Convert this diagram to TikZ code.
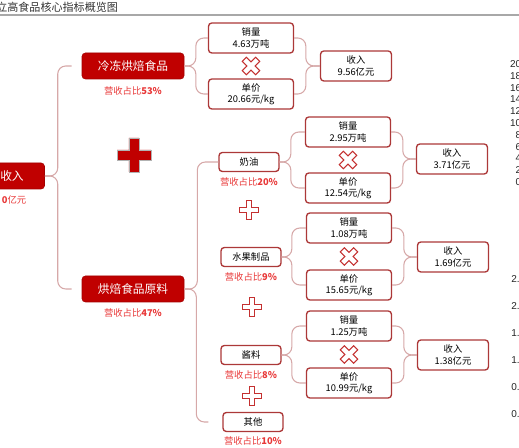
\documentclass[tikz,border=0pt]{standalone}
\usepackage{fontspec}
\setmainfont{Noto Sans CJK SC}
\newfontfamily\axisfont{Liberation Sans}
\usetikzlibrary{positioning, calc}

\definecolor{brandred}{RGB}{192,0,0}
\definecolor{boxred}{RGB}{172,56,56}
\definecolor{linkpink}{RGB}{214,168,168}
\definecolor{sharered}{RGB}{232,56,56}
\definecolor{markred}{RGB}{196,48,48}
\definecolor{rulegray}{RGB}{168,168,168}

\begin{document}
\begin{tikzpicture}[
    x=0.75pt, y=-0.75pt,
    mainbox/.style = {rectangle, fill=brandred, draw=brandred!85!black,
                    rounded corners=2.5pt, minimum width=76.5pt,
                    minimum height=19.5pt, inner sep=0pt, text=white,
                    font=\fontsize{8.8}{10}\selectfont},
    valbox/.style = {rectangle, draw=boxred, line width=1pt, fill=white,
                    rounded corners=2.5pt, minimum width=63.75pt,
                    minimum height=22.5pt, inner sep=0pt, align=center,
                    font=\fontsize{7}{8.6}\selectfont},
    revbox/.style = {valbox, minimum width=53.25pt},
    catbox/.style = {valbox, minimum width=45pt, minimum height=14.25pt},
    share/.style  = {text=sharered, inner sep=0.5pt,
                    font=\fontsize{7}{8}\selectfont},
    link/.style   = {draw=linkpink, line width=0.8pt, rounded corners=6pt},
    axlbl/.style  = {inner sep=0pt, text=black!85,
                    font=\axisfont\fontsize{7.5}{9}\selectfont},
    crossmark/.pic = {
        \path[pic actions] (-0.3,-1) -- (0.3,-1) -- (0.3,-0.3) -- (1,-0.3)
            -- (1,0.3) -- (0.3,0.3) -- (0.3,1) -- (-0.3,1) -- (-0.3,0.3)
            -- (-1,0.3) -- (-1,-0.3) -- (-0.3,-0.3) -- cycle;
    },
    bigplus/.style   = {scale=17, fill=brandred, draw=black!30, line width=0.4pt},
    smallplus/.style = {scale=9.5, fill=white, draw=markred, line width=0.8pt},
    timesmark/.style = {smallplus, rotate=45},
]

\useasboundingbox (0,0) rectangle (519,448);

%% ---- Layout coordinates ----
\def\xMain{133}
\def\xCat{251}
\def\xVal{349}
\def\xRev{453}

%% ==================================================================
%% TITLE
%% ==================================================================
\node[anchor=west, inner sep=0pt, text=black!80,
      font=\fontsize{8.3}{10}\selectfont] (title) at (-4, 7)
    {立高食品核心指标概览图};
\draw[rulegray, line width=1.5pt] (0,15) -- (519,15);

%% ==================================================================
%% NODES
%% ==================================================================
\node[mainbox, minimum width=48.75pt] (rev) at (12, 176) {收入};
\node[share, anchor=west] (revval) at (1, 200) {\textbf{0}亿元};

\node[mainbox] (frozen) at (\xMain, 66) {冷冻烘焙食品};
\node[share, below=5pt of frozen] (frozenshare) {营收占比\textbf{53\%}};
\node[mainbox] (raw) at (\xMain, 289) {烘焙食品原料};
\node[share, below=4pt of raw] (rawshare) {营收占比\textbf{47\%}};

%% frozen bakery
\node[valbox] (frozenvol) at (\xCat, 38) {销量\\4.63万吨};
\node[valbox] (frozenprice) at (\xCat, 94) {单价\\20.66元/kg};
\node[revbox] (frozenrev) at (356, 66) {收入\\9.56亿元};

%% cream
\node[catbox] (cream) at (249, 162) {奶油};
\node[share, below=3.5pt of cream] (creamshare) {营收占比\textbf{20\%}};
\node[valbox] (creamvol) at (348, 132) {销量\\2.95万吨};
\node[valbox] (creamprice) at (348, 188) {单价\\12.54元/kg};
\node[revbox] (creamrev) at (452, 159) {收入\\3.71亿元};

%% fruit products
\node[catbox] (fruit) at (\xCat, 257) {水果制品};
\node[share, below=3.5pt of fruit] (fruitshare) {营收占比\textbf{9\%}};
\node[valbox] (fruitvol) at (\xVal, 228) {销量\\1.08万吨};
\node[valbox] (fruitprice) at (\xVal, 285) {单价\\15.65元/kg};
\node[revbox] (fruitrev) at (\xRev, 257) {收入\\1.69亿元};

%% sauces
\node[catbox] (sauce) at (\xCat, 355) {酱料};
\node[share, below=3.5pt of sauce] (sauceshare) {营收占比\textbf{8\%}};
\node[valbox] (saucevol) at (\xVal, 326) {销量\\1.25万吨};
\node[valbox] (sauceprice) at (\xVal, 383) {单价\\10.99元/kg};
\node[revbox] (saucerev) at (\xRev, 355) {收入\\1.38亿元};

%% others
\node[catbox] (other) at (253, 422) {其他};
\node[share, below=3pt of other] (othershare) {营收占比\textbf{10\%}};

%% ==================================================================
%% CONNECTIONS
%% ==================================================================

%% Revenue -> two segments
\draw[link] (rev.east) -| ($(frozen.west)+(-24,0)$) -- ($(frozen.west)+(-10,0)$);
\draw[link] (rev.east) -| ($(raw.west)+(-24,0)$) -- ($(raw.west)+(-10,0)$);

%% Frozen bakery
\draw[link] (frozen.east) -| ($(frozenvol.west)+(-12,0)$) -- (frozenvol.west);
\draw[link] (frozen.east) -| ($(frozenprice.west)+(-12,0)$) -- (frozenprice.west);
\draw[link] (frozenvol.east) -| ($(frozenrev.west)+(-14,0)$) -- (frozenrev.west);
\draw[link] (frozenprice.east) -| ($(frozenrev.west)+(-14,0)$) -- (frozenrev.west);

%% Raw materials
\draw[link] (raw.east) -| ($(cream.west)+(-21,0)$) -- (cream.west);
\draw[link] (raw.east) -| ($(other.west)+(-26,0)$) -- ($(other.west)+(-14,0)$);

%% Cream
\draw[link] (cream.east) -| ($(creamvol.west)+(-14,0)$) -- (creamvol.west);
\draw[link] (cream.east) -| ($(creamprice.west)+(-14,0)$) -- (creamprice.west);
\draw[link] (creamvol.east) -| ($(creamrev.west)+(-13,0)$) -- (creamrev.west);
\draw[link] (creamprice.east) -| ($(creamrev.west)+(-13,0)$) -- (creamrev.west);

%% Fruit products
\draw[link] (fruit.east) -| ($(fruitvol.west)+(-14,0)$) -- (fruitvol.west);
\draw[link] (fruit.east) -| ($(fruitprice.west)+(-14,0)$) -- (fruitprice.west);
\draw[link] (fruitvol.east) -| ($(fruitrev.west)+(-13,0)$) -- (fruitrev.west);
\draw[link] (fruitprice.east) -| ($(fruitrev.west)+(-13,0)$) -- (fruitrev.west);

%% Sauces
\draw[link] (sauce.east) -| ($(saucevol.west)+(-14,0)$) -- (saucevol.west);
\draw[link] (sauce.east) -| ($(sauceprice.west)+(-14,0)$) -- (sauceprice.west);
\draw[link] (saucevol.east) -| ($(saucerev.west)+(-13,0)$) -- (saucerev.west);
\draw[link] (sauceprice.east) -| ($(saucerev.west)+(-13,0)$) -- (saucerev.west);

%% ==================================================================
%% PLUS / TIMES MARKS
%% ==================================================================
\pic[bigplus] at (134, 155) {crossmark};
\pic[smallplus] at (249, 210) {crossmark};
\pic[smallplus] at (252, 307) {crossmark};
\pic[smallplus] at (252, 396) {crossmark};

\pic[timesmark] at ($(frozenvol)!0.5!(frozenprice)$) {crossmark};
\pic[timesmark] at ($(creamvol)!0.5!(creamprice)$) {crossmark};
\pic[timesmark] at ($(fruitvol)!0.5!(fruitprice)$) {crossmark};
\pic[timesmark] at ($(saucevol)!0.5!(sauceprice)$) {crossmark};

%% ==================================================================
%% AXIS TICKS (cut at right edge)
%% ==================================================================
\foreach \v [count=\i from 0] in {20,18,16,14,12,10,8,6,4,2,0}
    \node[axlbl, anchor=east] (axl\i) at (521.5, {64+11.8*\i}) {\v};
\foreach \v [count=\i from 0] in {2.5,2.0,1.5,1.0,0.5,0.0}
    \node[axlbl, anchor=west] (axr\i) at (511, {279+27.1*\i}) {\v};

\end{tikzpicture}
\end{document}
